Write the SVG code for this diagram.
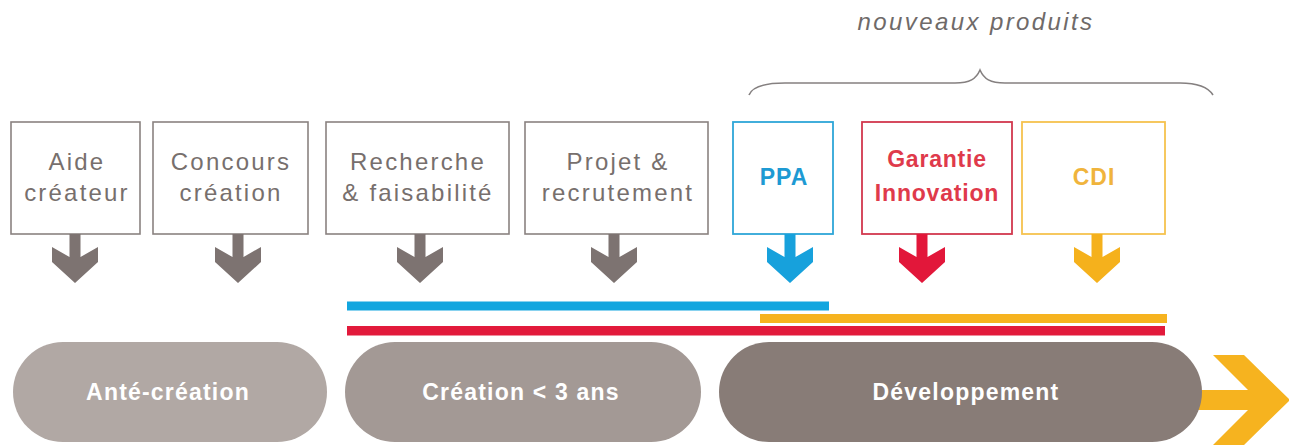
<svg xmlns="http://www.w3.org/2000/svg" width="1289" height="445" viewBox="0 0 1289 445">
<style>
.box{fill:#fff;stroke:#8a8280;stroke-width:1.6}
.gt{font-family:"Liberation Sans",Arial,sans-serif;font-size:24px;fill:#776f6d;letter-spacing:2.2px;text-anchor:middle}
.bt{font-family:"Liberation Sans",Arial,sans-serif;font-weight:bold;font-size:23px;text-anchor:middle}
.pt{font-family:"Liberation Sans",Arial,sans-serif;font-weight:bold;font-size:23px;fill:#fff;letter-spacing:1.2px;text-anchor:middle}
.it{font-family:"Liberation Sans",Arial,sans-serif;font-style:italic;font-size:24px;fill:#6f6a69;letter-spacing:2.4px;text-anchor:middle}
</style>
<defs>
<path id="dn" d="M-5.5,0 H5.5 V23 L23,13 V28 L0,49 L-23,28 V13 L-5.5,23 Z"/>
</defs>
<rect width="1289" height="445" fill="#fff"/>

<g id="title">
<text class="it" x="976" y="30">nouveaux produits</text>
<path d="M749,95 C752,87 765,83 785,83 L955,83 C970,83 976,79 980,70 C984,79 990,83 1005,83 L1180,83 C1198,83 1208,87 1213,95" fill="none" stroke="#858080" stroke-width="1.6"/>
</g>

<g id="n1">
<rect class="box" x="11" y="122" width="129" height="112"/>
<text class="gt" x="77" y="170">Aide</text>
<text class="gt" x="77" y="201">créateur</text>
</g>
<g id="n2">
<rect class="box" x="153" y="122" width="155" height="112"/>
<text class="gt" x="231" y="170">Concours</text>
<text class="gt" x="231" y="201">création</text>
</g>
<g id="n3">
<rect class="box" x="326" y="122" width="183" height="112"/>
<text class="gt" x="418" y="170">Recherche</text>
<text class="gt" x="418" y="201">&amp; faisabilité</text>
</g>
<g id="n4">
<rect class="box" x="525" y="122" width="183" height="112"/>
<text class="gt" x="618" y="170">Projet &amp;</text>
<text class="gt" x="618" y="201">recrutement</text>
</g>
<g id="n5">
<rect x="733" y="122" width="100" height="112" fill="#fff" stroke="#2ea6d8" stroke-width="1.8"/>
<text class="bt" x="784" y="185" fill="#1e9ad3" letter-spacing="1">PPA</text>
</g>
<g id="n6">
<rect x="862" y="122" width="150" height="112" fill="#fff" stroke="#d2384e" stroke-width="1.8"/>
<text class="bt" x="937" y="167" fill="#df3a4b" font-size="23" letter-spacing="0.8">Garantie</text>
<text class="bt" x="937" y="201" fill="#df3a4b" font-size="23" letter-spacing="0.8">Innovation</text>
</g>
<g id="n7">
<rect x="1022" y="122" width="143" height="112" fill="#fff" stroke="#f6c24e" stroke-width="1.8"/>
<text class="bt" x="1094" y="185" fill="#f0b43c" letter-spacing="1">CDI</text>
</g>

<g id="connectors">
<use href="#dn" x="75" y="234" fill="#7d7371"/>
<use href="#dn" x="238" y="234" fill="#7d7371"/>
<use href="#dn" x="420" y="234" fill="#7d7371"/>
<use href="#dn" x="614" y="234" fill="#7d7371"/>
<use href="#dn" x="790" y="234" fill="#17a1dc"/>
<use href="#dn" x="922" y="234" fill="#e2173a"/>
<use href="#dn" x="1097" y="234" fill="#f5b11c"/>
<rect x="347" y="301.5" width="482" height="9" fill="#13a6df"/>
<rect x="760" y="314" width="407" height="9" fill="#f6b31f"/>
<rect x="347" y="326" width="818" height="9.5" fill="#e21a3b"/>
<rect x="1190" y="390" width="72" height="20" fill="#f6b31f"/>
<path d="M1213,355 H1244 L1290,400 L1244,445 H1213 L1258,400 Z" fill="#f6b31f"/>
</g>

<g id="p1">
<rect x="13" y="342" width="314" height="100" rx="50" fill="#b1a8a4"/>
<text class="pt" x="168" y="400">Anté-création</text>
</g>
<g id="p2">
<rect x="345" y="342" width="356" height="100" rx="50" fill="#a39995"/>
<text class="pt" x="521" y="400">Création &lt; 3 ans</text>
</g>
<g id="p3">
<rect x="719" y="342" width="483" height="100" rx="50" fill="#887c77"/>
<text class="pt" x="966" y="400">Développement</text>
</g>
</svg>
